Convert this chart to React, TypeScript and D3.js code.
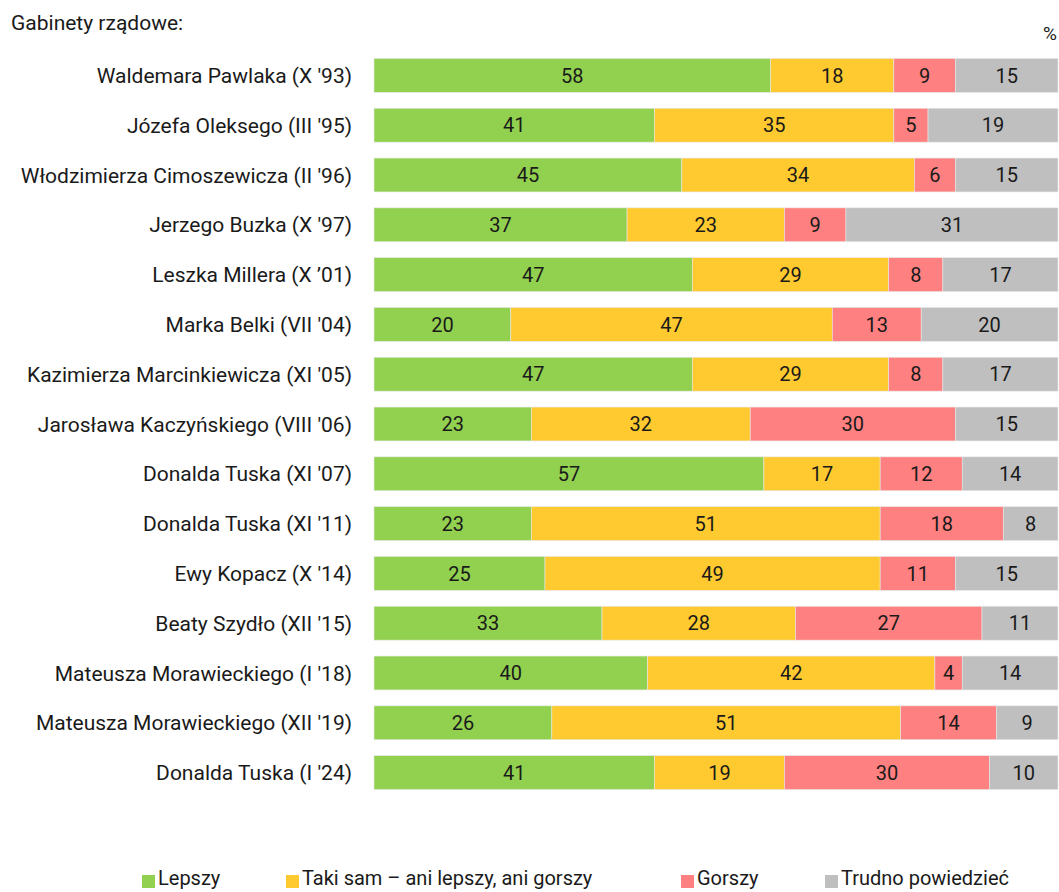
import React, { useEffect, useRef } from 'react';
import * as d3 from 'd3';

const cabinets = [
  "Waldemara Pawlaka (X '93)",
  "Józefa Oleksego (III '95)",
  "Włodzimierza Cimoszewicza (II '96)",
  "Jerzego Buzka (X '97)",
  "Leszka Millera (X ’01)",
  "Marka Belki (VII '04)",
  "Kazimierza Marcinkiewicza (XI '05)",
  "Jarosława Kaczyńskiego (VIII '06)",
  "Donalda Tuska (XI '07)",
  "Donalda Tuska (XI '11)",
  "Ewy Kopacz (X '14)",
  "Beaty Szydło (XII '15)",
  "Mateusza Morawieckiego (I '18)",
  "Mateusza Morawieckiego (XII '19)",
  "Donalda Tuska (I '24)",
];

const better = [58, 41, 45, 37, 47, 20, 47, 23, 57, 23, 25, 33, 40, 26, 41];
const same = [18, 35, 34, 23, 29, 47, 29, 32, 17, 51, 49, 28, 42, 51, 19];
const worse = [9, 5, 6, 9, 8, 13, 8, 30, 12, 18, 11, 27, 4, 14, 30];
const hard = [15, 19, 15, 31, 17, 20, 17, 15, 14, 8, 15, 11, 14, 9, 10];

const seriesNames = ['Lepszy', 'Taki sam – ani lepszy, ani gorszy', 'Gorszy', 'Trudno powiedzieć'];
const seriesColors = ['#92d050', '#ffca2f', '#ff8080', '#bfbfbf'];

const App = () => {
  const svgRef = useRef<SVGSVGElement>(null);

  useEffect(() => {
    const width = 1059;
    const height = 892;
    const font = 'Roboto, sans-serif';

    const svg = d3.select(svgRef.current);
    svg.selectAll('*').remove();

    const rows = cabinets.map((c, i) => ({
      name: c,
      values: [better[i], same[i], worse[i], hard[i]],
    }));

    // bars are stretched to full width (rounded shares don't always add to 100)
    const x = d3.scaleLinear().domain([0, 1]).range([374, 1058]);
    const y = d3.scaleBand<number>()
      .domain(d3.range(cabinets.length))
      .range([50.5, 797.5])
      .paddingInner(0.32)
      .paddingOuter(0.16);

    svg.append('text')
      .attr('x', 11)
      .attr('y', 30)
      .style('font-family', font)
      .style('font-size', '21px')
      .attr('fill', '#1a1a1a')
      .text('Gabinety rządowe:');

    svg.append('text')
      .attr('x', 1057)
      .attr('y', 40)
      .attr('text-anchor', 'end')
      .style('font-family', font)
      .style('font-size', '19px')
      .attr('fill', '#1a1a1a')
      .text('%');

    const row = svg.selectAll('.row')
      .data(rows)
      .enter().append('g')
      .attr('class', 'row')
      .attr('transform', (d, i) => `translate(0,${y(i)})`);

    row.append('text')
      .attr('x', 352)
      .attr('y', y.bandwidth() / 2)
      .attr('dy', '0.36em')
      .attr('text-anchor', 'end')
      .style('font-family', font)
      .style('font-size', '21px')
      .attr('fill', '#1a1a1a')
      .text(d => d.name);

    row.each(function (d) {
      const g = d3.select(this);
      const total = d3.sum(d.values);
      let acc = 0;
      d.values.forEach((v, j) => {
        const x0 = x(acc / total);
        const x1 = x((acc + v) / total);
        g.append('rect')
          .attr('x', x0)
          .attr('y', 0)
          .attr('width', x1 - x0)
          .attr('height', y.bandwidth())
          .attr('fill', seriesColors[j])
          .attr('stroke', '#e6e6e6')
          .attr('stroke-width', 0.6);
        g.append('text')
          .attr('x', (x0 + x1) / 2)
          .attr('y', y.bandwidth() / 2)
          .attr('dy', '0.36em')
          .attr('text-anchor', 'middle')
          .style('font-family', font)
          .style('font-size', '20px')
          .attr('fill', '#1a1a1a')
          .text(v);
        acc += v;
      });
    });

    // legend
    const legendX = [142, 286, 681, 825];
    const legend = svg.append('g')
      .selectAll('.legend-item')
      .data(seriesNames)
      .enter().append('g')
      .attr('class', 'legend-item')
      .attr('transform', (d, i) => `translate(${legendX[i]}, 880)`);

    legend.append('rect')
      .attr('x', 0)
      .attr('y', -5)
      .attr('width', 13)
      .attr('height', 13)
      .attr('fill', (d, i) => seriesColors[i]);

    legend.append('text')
      .attr('x', 16)
      .attr('y', 5)
      .style('font-family', font)
      .style('font-size', '20px')
      .attr('fill', '#1a1a1a')
      .text(d => d);

    svg.attr('width', width).attr('height', height);
  }, []);

  return (
    <svg ref={svgRef} style={{ position: 'absolute', left: 0, top: 0 }} width={1059} height={892}></svg>
  );
};

export default App;
